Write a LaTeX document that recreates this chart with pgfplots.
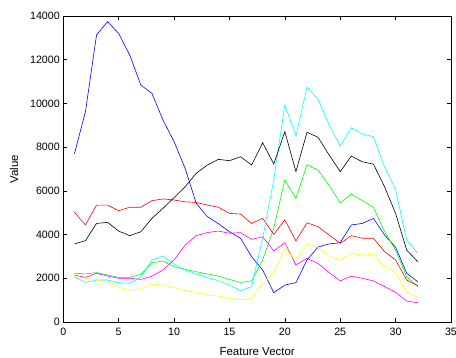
\documentclass[border=0pt]{standalone}
\usepackage{pgfplots}
\pgfplotsset{compat=1.18}
\usepackage{fontspec}
\setmainfont{Liberation Sans}
\definecolor{mblue}{rgb}{0,0,1}
\definecolor{mgreen}{rgb}{0,1,0}
\definecolor{mred}{rgb}{1,0,0}
\definecolor{mcyan}{rgb}{0,1,1}
\definecolor{mmag}{rgb}{1,0,1}
\definecolor{myel}{rgb}{1,1,0}
\begin{document}
\begin{tikzpicture}[x=1bp,y=1bp]
\begin{axis}[
  scale only axis,
  width=387.7bp, height=306bp,
  xmin=0, xmax=35, ymin=0, ymax=14000,
  xtick={0,5,...,35}, ytick={0,2000,...,14000},
  tick align=inside,
  tick style={black, line width=0.5pt},
  major tick length=4bp,
  axis line style={black, line width=0.5pt},
  scaled y ticks=false,
  yticklabel style={/pgf/number format/.cd, fixed, 1000 sep={}},
  xticklabel style={yshift=-3bp},
  /pgf/number format/assume math mode=true,
  ticklabel style={font=\fontsize{10.7}{12}\selectfont},
  label style={font=\fontsize{11.5}{13}\selectfont},
  xlabel={Feature Vector},
  ylabel={Value},
  xlabel style={yshift=-5bp},
  ylabel style={yshift=5bp},
  every axis plot/.append style={line width=0.6pt, mark=none},
]
\addplot[mblue] coordinates {(1,7690)(2,9620)(3,13130)(4,13740)(5,13200)(6,12210)(7,10840)(8,10460)(9,9240)(10,8250)(11,7030)(12,5430)(13,4820)(14,4500)(15,4130)(16,3830)(17,2990)(18,2380)(19,1340)(20,1690)(21,1800)(22,2840)(23,3430)(24,3570)(25,3630)(26,4440)(27,4510)(28,4740)(29,3980)(30,3420)(31,2230)(32,1840)};
\addplot[mgreen] coordinates {(1,2230)(2,2200)(3,2260)(4,2150)(5,2040)(6,2040)(7,2180)(8,2710)(9,2790)(10,2530)(11,2410)(12,2300)(13,2200)(14,2100)(15,1950)(16,1810)(17,1880)(18,2840)(19,4290)(20,6500)(21,5660)(22,7200)(23,6950)(24,6250)(25,5450)(26,5860)(27,5550)(28,5250)(29,4130)(30,3290)(31,2070)(32,1620)};
\addplot[mred] coordinates {(1,5020)(2,4440)(3,5350)(4,5350)(5,5090)(6,5250)(7,5250)(8,5550)(9,5630)(10,5580)(11,5500)(12,5470)(13,5350)(14,5250)(15,4970)(16,4940)(17,4510)(18,4740)(19,4010)(20,4670)(21,3710)(22,4540)(23,4360)(24,3980)(25,3600)(26,3950)(27,3830)(28,3830)(29,3220)(30,2840)(31,1920)(32,1660)};
\addplot[mcyan] coordinates {(1,2070)(2,1815)(3,1920)(4,1920)(5,1800)(6,1770)(7,2040)(8,2840)(9,3020)(10,2650)(11,2380)(12,2200)(13,2040)(14,1890)(15,1690)(16,1430)(17,1620)(18,3850)(19,6500)(20,9930)(21,8510)(22,10740)(23,10190)(24,9010)(25,8050)(26,8890)(27,8600)(28,8480)(29,7100)(30,6040)(31,3750)(32,3140)};
\addplot[mmag] coordinates {(1,2150)(2,2040)(3,2230)(4,2100)(5,2000)(6,2000)(7,1950)(8,2100)(9,2380)(10,2840)(11,3520)(12,3950)(13,4090)(14,4160)(15,4060)(16,4090)(17,3780)(18,3900)(19,3250)(20,3630)(21,2610)(22,2910)(23,2680)(24,2260)(25,1880)(26,2100)(27,2000)(28,1880)(29,1620)(30,1360)(31,960)(32,880)};
\addplot[myel] coordinates {(1,2100)(2,2000)(3,1920)(4,1840)(5,1590)(6,1460)(7,1510)(8,1740)(9,1690)(10,1590)(11,1430)(12,1360)(13,1240)(14,1190)(15,1080)(16,1010)(17,1080)(18,1770)(19,2230)(20,3370)(21,2800)(22,3570)(23,3420)(24,3020)(25,2840)(26,3140)(27,3060)(28,3100)(29,2530)(30,2260)(31,1360)(32,1130)};
\addplot[black] coordinates {(1,3570)(2,3720)(3,4510)(4,4560)(5,4160)(6,3950)(7,4130)(8,4740)(9,5200)(10,5690)(11,6190)(12,6800)(13,7180)(14,7440)(15,7380)(16,7560)(17,7180)(18,8200)(19,7230)(20,8710)(21,6880)(22,8680)(23,8450)(24,7640)(25,6880)(26,7590)(27,7330)(28,7220)(29,6190)(30,4970)(31,3290)(32,2760)};
\end{axis}
\pgfresetboundingbox
\path ([xshift=-63.3bp,yshift=-36bp]current axis.south west) rectangle ([xshift=5bp,yshift=16bp]current axis.north east);
\end{tikzpicture}
\end{document}
